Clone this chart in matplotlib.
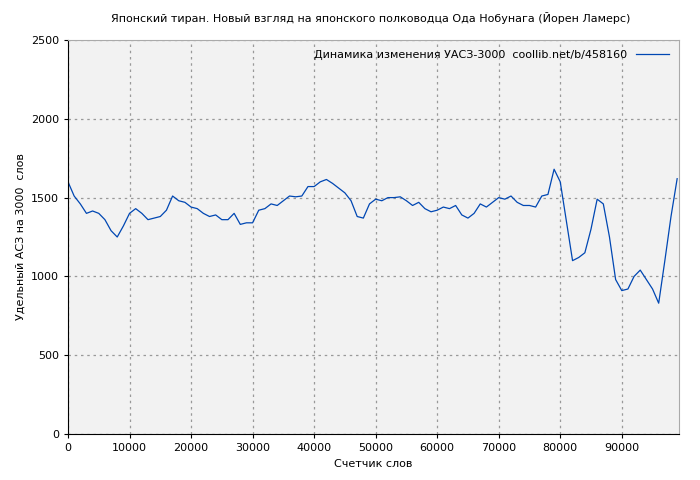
import matplotlib
matplotlib.use("Agg")
import matplotlib.pyplot as plt

words = list(range(0, 100000, 1000))
values = [1600,1510,1460,1400,1415,1400,1360,1290,1250,1320,
          1400,1430,1400,1360,1370,1380,1420,1510,1480,1470,
          1440,1430,1400,1380,1390,1360,1360,1400,1330,1340,
          1340,1420,1430,1460,1450,1480,1510,1505,1510,1570,
          1570,1600,1615,1590,1560,1530,1480,1380,1370,1460,
          1490,1480,1500,1500,1505,1480,1450,1470,1430,1410,
          1420,1440,1430,1450,1390,1370,1400,1460,1440,1470,
          1500,1490,1510,1470,1450,1450,1440,1510,1520,1680,
          1600,1350,1100,1120,1150,1300,1490,1460,1250,980,
          910,920,1000,1040,980,920,830,1100,1380,1620]
xticks = [0,10000,20000,30000,40000,50000,60000,70000,80000,90000]
yticks = [0,500,1000,1500,2000,2500]

fig = plt.figure(figsize=(7,4.8), dpi=100)
ax = fig.add_axes([68/700, 46/480, 611/700, 394/480])
ax.set_facecolor('#f2f2f2')
ax.plot(words, values, color='#0047b3', lw=0.9, label='Динамика изменения УАСЗ-3000  coollib.net/b/458160')
ax.set_xlim(0, 99300)
ax.set_ylim(0, 2500)
ax.set_xticks(xticks)
ax.set_yticks(yticks)
ax.tick_params(labelsize=8, length=3)
ax.grid(True, ls=(0,(2,3)), color='#999999', lw=0.9)
for s in ['top','right']:
    ax.spines[s].set_color('#aaaaaa')
ax.set_xlabel('Счетчик слов', fontsize=8)
ax.set_ylabel('Удельный АСЗ на 3000  слов', fontsize=8)
fig.text(0.53, 0.955, 'Японский тиран. Новый взгляд на японского полководца Ода Нобунага (Йорен Ламерс)', ha='center', fontsize=8)
leg = ax.legend(loc='upper right', frameon=False, fontsize=8, markerfirst=False, handlelength=3)
fig.savefig('out.png', dpi=100)
